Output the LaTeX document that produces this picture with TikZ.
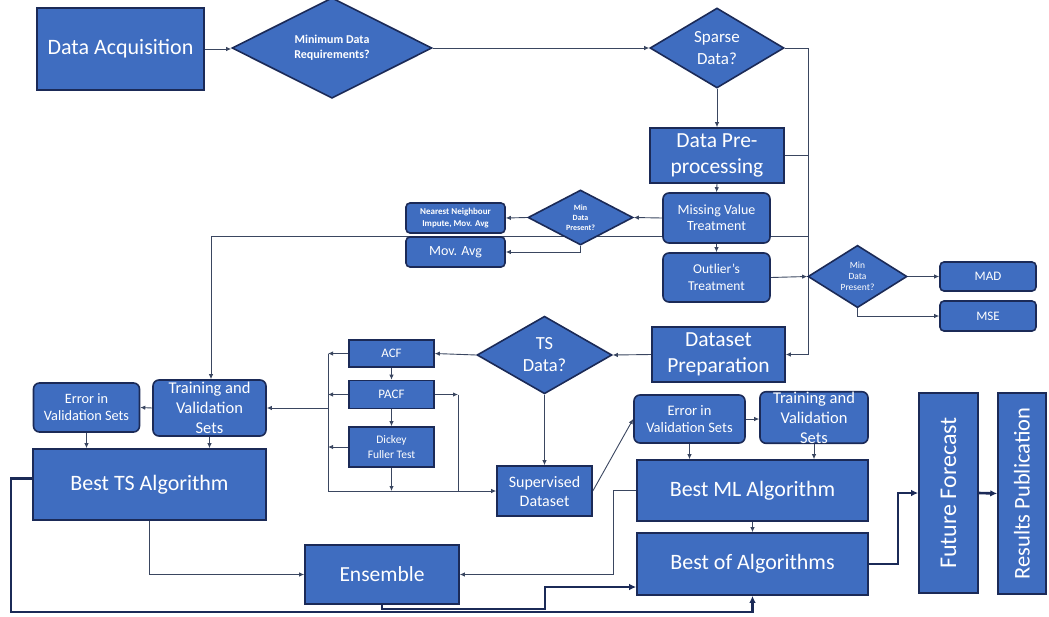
\documentclass[tikz,border=0pt]{standalone}
\usepackage{fontspec}
\setmainfont{Carlito}
\usetikzlibrary{arrows.meta,shapes.geometric,backgrounds}
\definecolor{boxblue}{HTML}{3F6DC0}
\definecolor{navy}{HTML}{1B2A57}
\definecolor{wire}{HTML}{3A4660}
\newcommand{\fs}[2]{\fontsize{#1}{#2}\selectfont}
\begin{document}
\begin{tikzpicture}[x=1pt,y=-1pt,
  blk/.style={draw=navy,line width=1.6pt,fill=boxblue,text=white,inner sep=0pt,align=center},
  rbox/.style={blk,rounded corners=6pt},
  dia/.style={blk,diamond},
  ln/.style={draw=wire,line width=0.9pt},
  arr/.style={ln,-{Latex[length=5pt,width=4.5pt]}},
  thk/.style={draw=navy,line width=2.6pt},
  tarr/.style={thk,-{Latex[length=7pt,width=6.5pt]}},
]
\useasboundingbox (0,0) rectangle (1049,616);

% ---------- top row ----------
\node[blk,minimum width=167,minimum height=82,font=\fs{22}{26}] (acq) at (120.5,49) {Data Acquisition};
\node[dia,minimum width=200,minimum height=80,font=\fs{12}{15}\bfseries] (req) at (332,48) {Minimum Data\\Requirements?};
\node[dia,minimum width=134,minimum height=80,font=\fs{17}{22}] (sparse) at (717,48) {Sparse\\Data?};
\node[blk,minimum width=134,minimum height=55,font=\fs{21.5}{26}] (prep) at (717,155.5) {Data Pre-\\processing};

% ---------- pre-processing branch ----------
\node[rbox,minimum width=107,minimum height=50,font=\fs{14}{16}] (mvt) at (716.5,218) {Missing Value\\Treatment};
\node[dia,minimum width=105,minimum height=55,font=\fs{8}{10}\bfseries] (mdp1) at (580.5,217.5) {Min\\Data\\Present?};
\node[rbox,rounded corners=4pt,minimum width=99,minimum height=30,font=\fs{9}{11.5}\bfseries] (nn) at (455.5,218) {Nearest Neighbour\\Impute, Mov. Avg};
\node[rbox,rounded corners=4pt,minimum width=99,minimum height=30,font=\fs{14}{16}] (mavg) at (455.5,252) {Mov. Avg};
\node[rbox,minimum width=107,minimum height=49,font=\fs{13.5}{16.5}] (outl) at (716.5,277.5) {Outlier’s\\Treatment};
\node[dia,minimum width=99,minimum height=53,font=\fs{9.5}{11}] (mdp2) at (857.5,276.5) {Min\\Data\\Present?};
\node[rbox,rounded corners=4pt,minimum width=96,minimum height=29,font=\fs{13}{15}] (mad) at (988,276.5) {MAD};
\node[rbox,rounded corners=4pt,minimum width=96,minimum height=30,font=\fs{13}{15}] (mse) at (988,316) {MSE};

% ---------- dataset preparation ----------
\node[blk,minimum width=133,minimum height=55,font=\fs{21.5}{26}] (dsp) at (718.5,354.5) {Dataset\\Preparation};
\node[dia,minimum width=135,minimum height=71,font=\fs{18.5}{22}] (ts) at (544.5,355) {TS\\Data?};
\node[blk,minimum width=85,minimum height=27,font=\fs{13}{15}] (acf) at (391.5,353.5) {ACF};
\node[blk,minimum width=85,minimum height=28,font=\fs{13}{15}] (pacf) at (391.5,394.5) {PACF};
\node[blk,minimum width=85,minimum height=40,font=\fs{11.5}{15}] (dft) at (391.5,447) {Dickey\\Fuller Test};
\node[blk,minimum width=95,minimum height=50,font=\fs{16}{19}] (sup) at (544.5,491) {Supervised\\Dataset};

% ---------- ML side ----------
\node[rbox,minimum width=111,minimum height=48,font=\fs{14.5}{17}] (errml) at (689.5,419) {Error in\\Validation Sets};
\node[rbox,minimum width=108,minimum height=51,font=\fs{16.5}{20}] (trml) at (814,417.5) {Training and\\Validation\\Sets};
\node[blk,minimum width=231,minimum height=61,font=\fs{22}{26}] (bml) at (752.5,490.5) {Best ML Algorithm};
\node[blk,minimum width=231,minimum height=62,font=\fs{22}{26}] (boa) at (752.5,564) {Best of Algorithms};
\node[blk,minimum width=59,minimum height=200,font=\fs{24}{28}] (ff) at (948.5,493) {\rotatebox{90}{Future Forecast}};
\node[blk,minimum width=48,minimum height=201,font=\fs{22.5}{26}] (rp) at (1022,493.5) {\rotatebox{90}{Results Publication}};

% ---------- TS side ----------
\node[rbox,minimum width=113,minimum height=56,font=\fs{16.5}{20}] (trts) at (209.5,408) {Training and\\Validation\\Sets};
\node[rbox,minimum width=106,minimum height=49,font=\fs{14.3}{17}] (errts) at (86.5,407.5) {Error in\\Validation Sets};
\node[blk,minimum width=233,minimum height=71,font=\fs{22}{26}] (bts) at (149.5,484.5) {Best TS Algorithm};
\node[blk,minimum width=154,minimum height=59,font=\fs{21.5}{26}] (ens) at (382,574.5) {Ensemble};

% ---------- junction points ----------
\coordinate (rt) at (808,48);
\coordinate (loopR) at (808,236);
\coordinate (loopL) at (211,236);
\coordinate (busL) at (328,353.5);
\coordinate (busT) at (328,408);
\coordinate (busR) at (458,394.5);
\coordinate (mlj) at (613,490.5);
\coordinate (e1) at (382,609);
\coordinate (e2) at (545,609);
\coordinate (e3) at (545,587);
\coordinate (b1) at (11,478.5);
\coordinate (b2) at (11,612);
\coordinate (b3) at (752.5,612);
\coordinate (f1) at (898,564);

\begin{scope}[on background layer]
  % main flow
  \draw[arr] (acq.east) -- (acq.east -| req.west);
  \draw[arr] (req.east) -- (sparse.west);
  \draw[arr] (sparse.south) -- (prep.north);
  \draw[arr] (sparse.east) -- (rt) |- (dsp.east);
  \draw[ln] (prep.east) -- (prep.east -| rt);
  \draw[arr] (loopR) -- (loopL) -- (loopL |- trts.north);
  % pre-processing
  \draw[arr] (prep.south) -- (mvt.north);
  \draw[arr] (mvt.south) -- (outl.north);
  \draw[arr] (mvt.west) -- (mdp1.east);
  \draw[arr] (mdp1.west) -- (nn.east);
  \draw[arr] (mdp1.south) |- (mavg.east);
  \draw[arr] (outl.east) -- (mdp2.west);
  \draw[arr] (mdp2.east) -- (mad.west);
  \draw[arr] (mdp2.south) |- (mse.west);
  % time series tests
  \draw[arr] (dsp.west) -- (ts.east);
  \draw[arr] (ts.west) -- (acf.east);
  \draw[arr] (acf.south) -- (pacf.north);
  \draw[arr] (pacf.south) -- (dft.north);
  \draw[arr] (ts.south) -- (sup.north);
  \draw[arr] (acf.west) -- (busL);
  \draw[arr] (pacf.west) -- (pacf.west -| busL);
  \draw[arr] (dft.west) -- (dft.west -| busL);
  \draw[arr] (busL) |- (sup.west);
  \draw[arr] (dft.south) -- (dft.south |- sup.west);
  \draw[arr] (busT) -- (trts.east);
  \draw[arr] (pacf.east) -- (busR);
  \draw[ln] (busR) -- (busR |- sup.west);
  % machine learning
  \draw[arr] (sup.east) -- (errml.west);
  \draw[arr] (errml.east) -- (errml.east -| trml.west);
  \draw[arr] (errml.south) -- (errml.south |- bml.north);
  \draw[arr] (trml.south) -- (trml.south |- bml.north);
  \draw[arr] (bml.south) -- (boa.north);
  \draw[arr] (bml.west) -- (mlj) |- (ens.east);
  % time series models
  \draw[arr] (trts.west) -- (errts.east);
  \draw[arr] (errts.south) -- (errts.south |- bts.north);
  \draw[arr] (trts.south) -- (trts.south |- bts.north);
  \draw[arr] (bts.south) |- (ens.west);
  % final selection
  \draw[tarr] (ens.south) -- (e1) -- (e2) -- (e3) -- (e3 -| boa.west);
  \draw[tarr] (b1 -| bts.west) -- (b1) -- (b2) -- (b3) -- (boa.south);
  \draw[tarr] (boa.east) -- (f1) |- (ff.west);
  \draw[tarr] (ff.east) -- (rp.west);
\end{scope}
\end{tikzpicture}
\end{document}
